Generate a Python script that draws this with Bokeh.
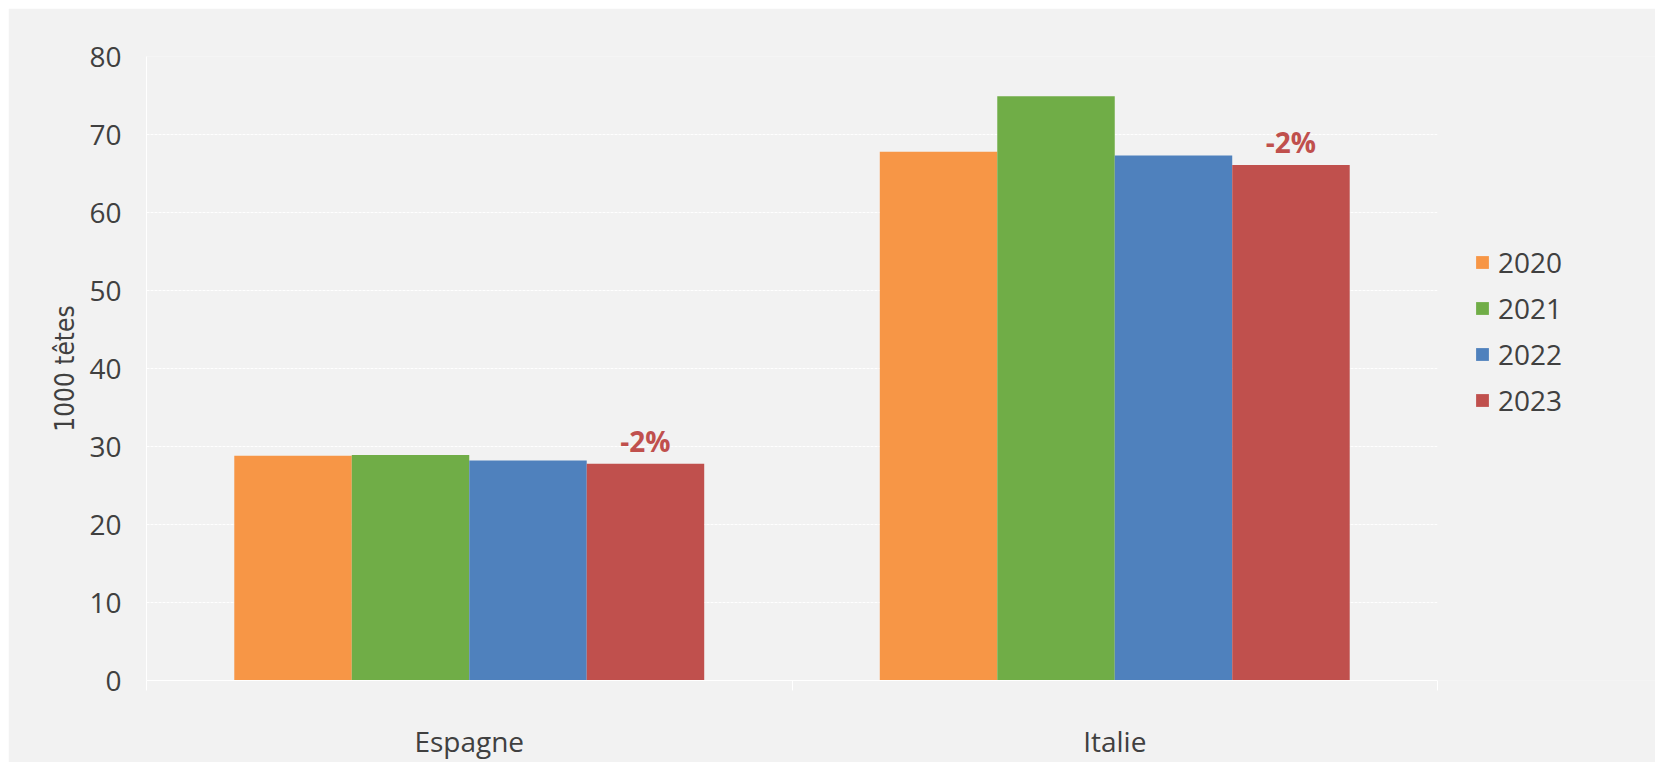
from bokeh.plotting import figure
from bokeh.models import Range1d, FixedTicker, Legend, LegendItem, ColumnDataSource, BoxAnnotation
from bokeh.core.properties import value
from bokeh.embed import file_html
from bokeh.resources import INLINE

categories = ["Espagne", "Italie"]
years = ["2020", "2021", "2022", "2023"]
v2020 = [28.8, 67.8]
v2021 = [28.9, 74.9]
v2022 = [28.2, 67.3]
v2023 = [27.8, 66.1]
change_labels = ["-2%", "-2%"]
y_ticks = [0, 10, 20, 30, 40, 50, 60, 70, 80]
colors = ["#F79646", "#70AD47", "#4F81BD", "#C0504D"]

series = [v2020, v2021, v2022, v2023]
offsets = [-0.273, -0.091, 0.091, 0.273]
bar_w = 0.182

FONT = "Open Sans"
NARROW = "'Liberation Sans Narrow', 'DejaVu Sans Condensed', sans-serif"
TXT = "#404040"
BG = "#F2F2F2"

W, H = 1647, 754
LEFT, TOP, BOTTOM = 138, 48, 81
PLOT_W = 1291                     # width of the category area in pixels
n = len(categories)
x_end = n * (W - LEFT) / PLOT_W   # frame extends under the legend area

p = figure(width=W, height=H, output_backend="svg", toolbar_location=None,
           x_range=Range1d(0, x_end), y_range=Range1d(0, 80),
           min_border_left=LEFT, min_border_right=0, min_border_top=TOP, min_border_bottom=BOTTOM)
p.margin = (8, 0, 0, 8)
p.background_fill_color = BG
p.border_fill_color = BG
p.outline_line_color = None

items = []
for yr, vals, off, col in zip(years, series, offsets, colors):
    src = ColumnDataSource(dict(x=[i + 0.5 + off for i in range(n)], top=vals))
    r = p.vbar(x="x", top="top", width=bar_w, source=src, fill_color=col, line_color=None)
    items.append(LegendItem(label=yr, renderers=[r]))

# change labels above 2023 bars
lsrc = ColumnDataSource(dict(x=[i + 0.5 + offsets[3] for i in range(n)], y=v2023, t=change_labels))
p.text(x="x", y="y", text="t", source=lsrc, text_align="center", text_baseline="alphabetic",
       y_offset=-23, text_font=value(FONT), text_font_size="28px", text_font_style="bold",
       text_color="#C0504D")

# hide grid lines to the right of the category area (legend zone)
p.add_layout(BoxAnnotation(left=n, fill_color=BG, fill_alpha=1, line_alpha=0))

# y axis
p.yaxis.ticker = FixedTicker(ticks=y_ticks)
p.yaxis.major_tick_out = 0
p.yaxis.major_tick_in = 0
p.yaxis.minor_tick_out = 0
p.yaxis.minor_tick_in = 0
p.yaxis.axis_line_color = "white"
p.yaxis.major_label_standoff = 25
p.yaxis.major_label_text_font = FONT
p.yaxis.major_label_text_font_size = "28px"
p.yaxis.major_label_text_color = TXT
p.yaxis.axis_label = "1000 têtes"
p.yaxis.axis_label_text_font = NARROW
p.yaxis.axis_label_text_font_size = "26px"
p.yaxis.axis_label_text_font_style = "normal"
p.yaxis.axis_label_text_color = TXT
p.yaxis.axis_label_standoff = 6

# x axis
p.xaxis.ticker = FixedTicker(ticks=[i + 0.5 for i in range(n)], minor_ticks=list(range(n + 1)))
p.xaxis.major_label_overrides = {i + 0.5: c for i, c in enumerate(categories)}
p.xaxis.bounds = (0, n)
p.xaxis.major_tick_out = 0
p.xaxis.major_tick_in = 0
p.xaxis.minor_tick_out = 10
p.xaxis.minor_tick_in = 0
p.xaxis.minor_tick_line_color = "white"
p.xaxis.axis_line_color = "white"
p.xaxis.major_label_standoff = 31
p.xaxis.major_label_text_font = FONT
p.xaxis.major_label_text_font_size = "28px"
p.xaxis.major_label_text_color = TXT

p.xgrid.visible = False
p.ygrid.grid_line_color = "white"
p.ygrid.grid_line_dash = "3 1"
p.ygrid.grid_line_width = 1

legend = Legend(items=items, location=(1328, 261), padding=0, margin=0, spacing=8,
                glyph_width=16, glyph_height=16, label_standoff=8,
                label_text_font=FONT, label_text_font_size="28px", label_text_color=TXT,
                border_line_alpha=0, background_fill_alpha=0)
p.add_layout(legend, "center")

open("out.html", "w").write(file_html(p, INLINE))
